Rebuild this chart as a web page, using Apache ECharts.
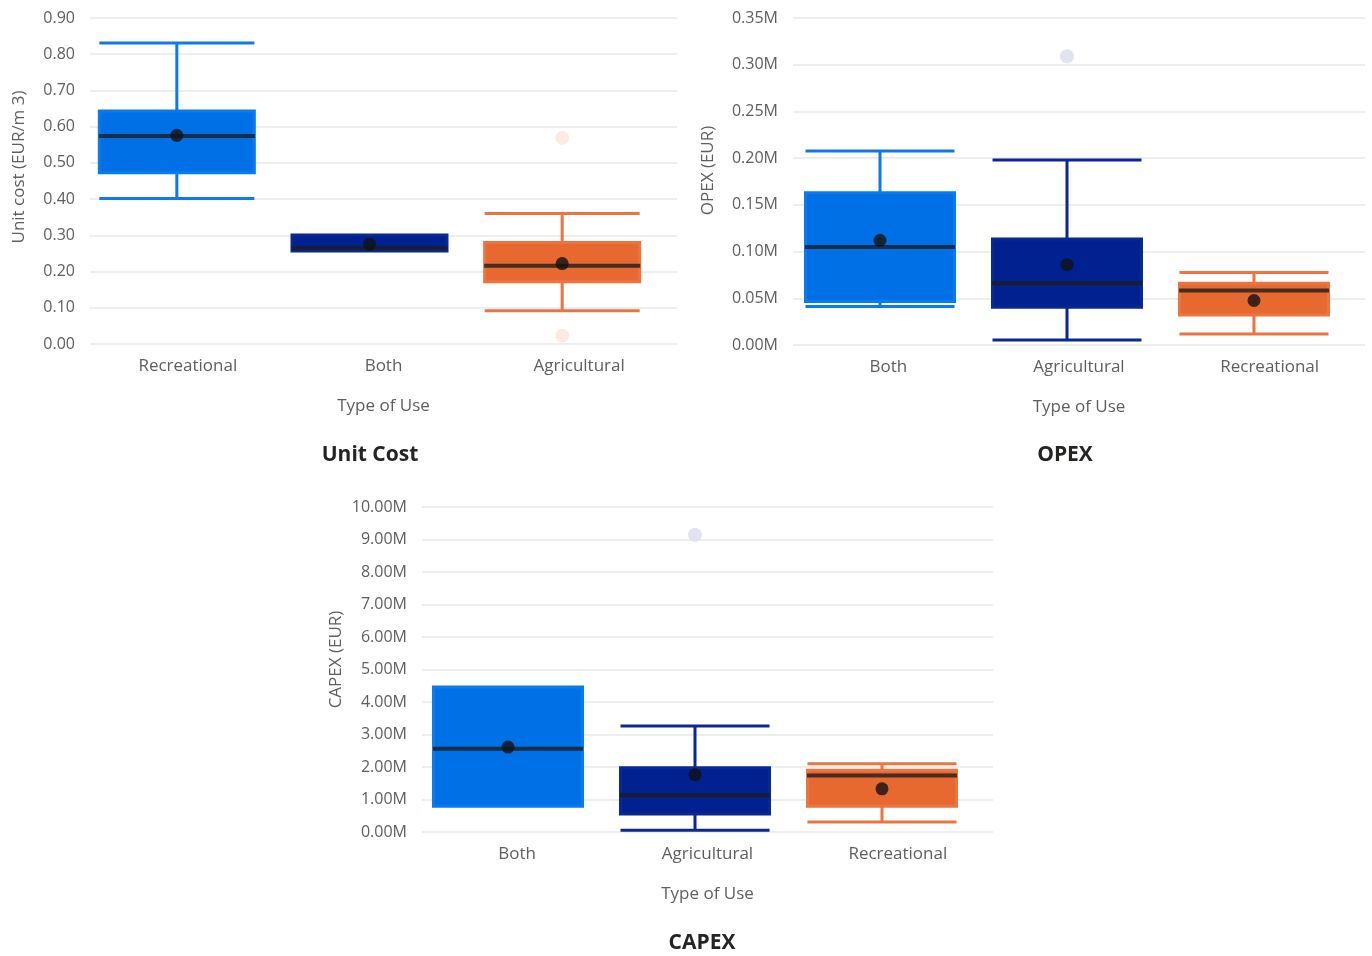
<!DOCTYPE html>
<html>
<head>
<meta charset="utf-8">
<script src="https://cdn.jsdelivr.net/npm/echarts@6/dist/echarts.min.js"></script>
<style>
html,body{margin:0;padding:0;background:#fff;}
#chart{width:1372px;height:956px;}
</style>
</head>
<body>
<div id="chart"></div>
<script>
// ---------- DATA ----------
// boxes: [min, Q1, median, Q3, max]
const unitCats = ['Recreational', 'Both', 'Agricultural'];
const unitBox = [
  [0.402, 0.473, 0.574, 0.643, 0.831],
  [0.257, 0.257, 0.264, 0.301, 0.301],
  [0.092, 0.172, 0.216, 0.280, 0.360]
];
const unitMean = [0.576, 0.2755, 0.222];
const unitOutliers = [['Agricultural', 0.569], ['Agricultural', 0.023]];
const unitTicks = [0, 0.9, 0.1];

const opexCats = ['Both', 'Agricultural', 'Recreational'];
const opexBox = [
  [41200, 46500, 104900, 163000, 207600],
  [5400, 40400, 66200, 113500, 198000],
  [11800, 32200, 58300, 66200, 77700]
];
const opexMean = [112000, 85900, 47600];
const opexOutliers = [['Agricultural', 309000]];
const opexTicks = [0, 350000, 50000];

const capexCats = ['Both', 'Agricultural', 'Recreational'];
const capexBox = [
  [792000, 792000, 2562000, 4465000, 4465000],
  [51000, 556000, 1132000, 1975000, 3261000],
  [309000, 792000, 1739000, 1903000, 2099000]
];
const capexMean = [2613000, 1759000, 1327000];
const capexOutliers = [['Agricultural', 9146000]];
const capexTicks = [0, 10000000, 1000000];

// ---------- STYLE ----------
const FONT = '"Open Sans", "Noto Sans", sans-serif';
const fillCol = ['#0070E6', '#00218F', '#E8692F'];
const whiskCol = ['#0A7AEE', '#0A2894', '#EC7440'];
const labelCol = '#605E5C';

const chart = echarts.init(document.getElementById('chart'), null, { renderer: 'canvas' });

const panels = [
  { cats: unitCats, box: unitBox, mean: unitMean, out: unitOutliers, ticks: unitTicks,
    fmt: v => v.toFixed(2), yName: 'Unit cost (EUR/m 3)', title: 'Unit Cost',
    gA: { left: 90, width: 587, top: 18, height: 326 },
    gB: { left: 80.5, width: 578, top: 18, height: 326 },
    boxW: 155, medW: 156, yGap: 62, yShift: 28, outC: ['#FCE6DC', '#FCE6DC'],
    titleX: 370, titleY: 455 },
  { cats: opexCats, box: opexBox, mean: opexMean, out: opexOutliers, ticks: opexTicks,
    fmt: v => (v / 1e6).toFixed(2) + 'M', yName: 'OPEX (EUR)', title: 'OPEX',
    gA: { left: 793, width: 572, top: 18, height: 327 },
    gB: { left: 786.5, width: 561, top: 18, height: 327 },
    boxW: 149, medW: 150, yGap: 76, yShift: 22, outC: ['#D9DCF0'],
    titleX: 1065, titleY: 455 },
  { cats: capexCats, box: capexBox, mean: capexMean, out: capexOutliers, ticks: capexTicks,
    fmt: v => (v / 1e6).toFixed(2) + 'M', yName: 'CAPEX (EUR)', title: 'CAPEX',
    gA: { left: 422, width: 571, top: 507, height: 325 },
    gB: { left: 414.5, width: 561, top: 507, height: 325 },
    boxW: 149, medW: 150, yGap: 77, yShift: 20, outC: ['#D9DCF0'],
    titleX: 702, titleY: 943 }
];

const grid = [], xAxis = [], yAxis = [], series = [], titles = [];

panels.forEach((p, k) => {
  const gi = grid.length;
  grid.push(p.gA, p.gB);
  // visible axes (grid A)
  xAxis.push({
    gridIndex: gi, type: 'category', data: p.cats,
    axisLine: { show: false }, axisTick: { show: false },
    axisLabel: { color: labelCol, fontFamily: FONT, fontSize: 17, margin: 14 },
    name: 'Type of Use', nameLocation: 'middle', nameGap: 54,
    nameTextStyle: { color: labelCol, fontFamily: FONT, fontSize: 17 }
  });
  yAxis.push({
    gridIndex: gi, type: 'value', min: p.ticks[0], max: p.ticks[1], interval: p.ticks[2],
    axisLine: { show: false }, axisTick: { show: false },
    axisLabel: { color: labelCol, fontFamily: FONT, fontSize: 16, margin: 15, formatter: p.fmt },
    splitLine: { show: true, lineStyle: { color: '#E8E8E8', width: 1.5 } },
    name: p.yName, nameLocation: 'middle', nameGap: p.yGap, nameRotate: 90,
    nameTextStyle: { color: labelCol, fontFamily: FONT, fontSize: 17, padding: [0, 0, 0, p.yShift] }
  });
  // hidden axes for marks (grid B)
  const xi = xAxis.length, yi = yAxis.length;
  xAxis.push({ gridIndex: gi + 1, type: 'category', data: p.cats, show: false });
  yAxis.push({ gridIndex: gi + 1, type: 'value', min: p.ticks[0], max: p.ticks[1], show: false, splitLine: { show: false } });

  series.push({
    type: 'boxplot', xAxisIndex: xi, yAxisIndex: yi, boxWidth: [p.boxW, p.boxW],
    data: p.box.map((v, i) => ({
      value: v,
      itemStyle: { color: fillCol[i], borderColor: whiskCol[i], borderWidth: 3 }
    })),
    emphasis: { disabled: true }, z: 2
  });
  series.push({
    type: 'scatter', xAxisIndex: xi, yAxisIndex: yi,
    symbol: 'rect', symbolSize: [p.medW, 4],
    data: p.box.map((v, i) => [p.cats[i], v[2]]),
    itemStyle: { color: '#1B1B1B' }, emphasis: { disabled: true }, z: 3
  });
  series.push({
    type: 'scatter', xAxisIndex: xi, yAxisIndex: yi,
    symbol: 'circle', symbolSize: 13,
    data: p.mean.map((v, i) => [p.cats[i], v]),
    itemStyle: { color: '#111111' }, emphasis: { disabled: true }, z: 4
  });
  series.push({
    type: 'scatter', xAxisIndex: xi, yAxisIndex: yi,
    symbol: 'circle', symbolSize: 14,
    data: p.out.map((o, i) => ({ value: o, itemStyle: { color: p.outC[i] || p.outC[0] } })),
    emphasis: { disabled: true }, z: 1
  });

  titles.push({
    text: p.title, left: p.titleX, top: p.titleY, padding: 0,
    textAlign: 'center', textVerticalAlign: 'middle',
    textStyle: { fontFamily: FONT, fontSize: 21, fontWeight: 'bold', color: '#252423' }
  });
});

chart.setOption({
  animation: false,
  backgroundColor: '#ffffff',
  title: titles,
  grid: grid,
  xAxis: xAxis,
  yAxis: yAxis,
  series: series
});
</script>
</body>
</html>
